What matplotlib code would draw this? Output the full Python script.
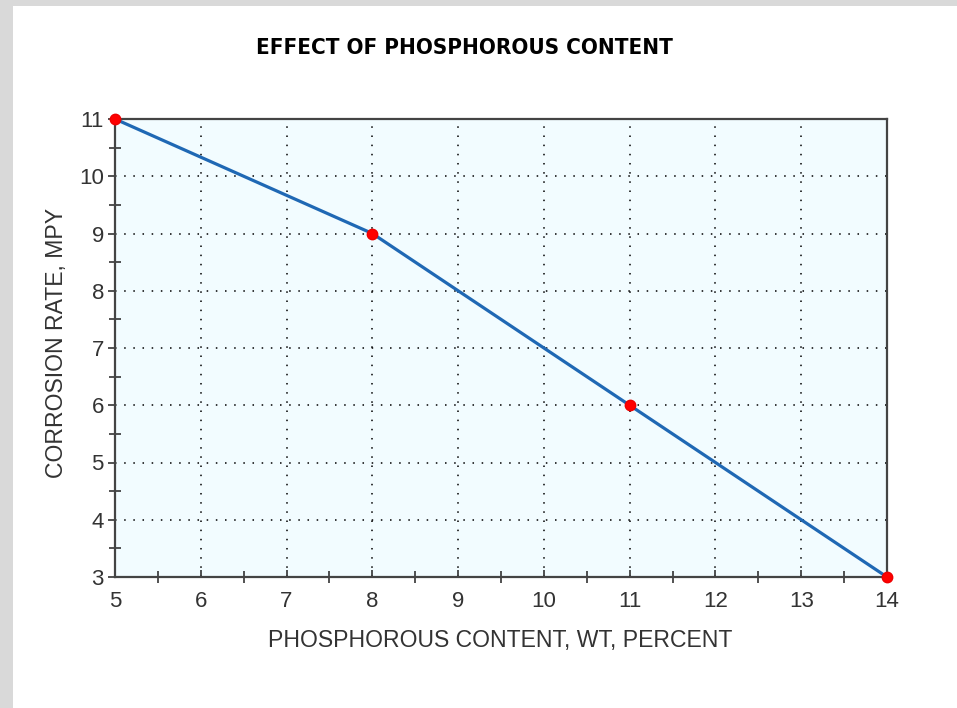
import matplotlib
matplotlib.use("Agg")
import matplotlib.pyplot as plt
from matplotlib.ticker import MultipleLocator

phosphorus = [5, 8, 11, 14]
corrosion = [11, 9, 6, 3]
x_ticks = [5, 6, 7, 8, 9, 10, 11, 12, 13, 14]
y_ticks = [3, 4, 5, 6, 7, 8, 9, 10, 11]

W, H = 957, 708
fig = plt.figure(figsize=(W / 100, H / 100), dpi=100)
fig.patch.set_facecolor("#d9d9d9")
bg = fig.add_axes([13 / W, 0, 1 - 13 / W, 1 - 6 / H], zorder=0)
bg.set_axis_off()
bg.add_artist(plt.Rectangle((0, 0), 1, 1, transform=bg.transAxes, facecolor="white", edgecolor="none"))

ax = fig.add_axes([115 / W, 1 - 577 / H, (887 - 115) / W, (577 - 119) / H], zorder=2)
ax.set_facecolor("#f2fcff")
ax.plot(phosphorus, corrosion, color="#1f68b4", lw=2.3, zorder=3, clip_on=False)
ax.plot(phosphorus, corrosion, "o", color="#ff0000", ms=7.5, mec="#ee0000", zorder=4, clip_on=False)

ax.set_xlim(5, 14)
ax.set_ylim(3, 11)
ax.set_xticks(x_ticks)
ax.set_yticks(y_ticks)
ax.xaxis.set_minor_locator(MultipleLocator(0.5))
ax.yaxis.set_minor_locator(MultipleLocator(0.5))
ax.grid(True, which="major", color="black", linestyle=(0, (1, 5)), linewidth=1.1)
ax.tick_params(axis="x", which="major", direction="in", length=5, width=1.2, color="#333333",
               labelsize=16, labelcolor="#333333", pad=10)
ax.tick_params(axis="y", which="major", direction="out", length=5, width=1.2, color="#333333",
               labelsize=16, labelcolor="#333333", pad=3)
ax.tick_params(which="minor", direction="inout", length=8, width=1.2, color="#333333")
for s in ax.spines.values():
    s.set_color("#444444")
    s.set_linewidth(1.6)

ax.set_xlabel("PHOSPHOROUS CONTENT, WT, PERCENT", fontsize=16.6, color="#333333",
              family="Liberation Sans", va="center", ha="center")
ax.xaxis.set_label_coords((500 - 115) / 772, -(641 - 577) / 458)
ax.set_ylabel("CORROSION RATE, MPY", fontsize=16.6, color="#333333",
              family="Liberation Sans", va="center", ha="center")
ax.yaxis.set_label_coords((57 - 115) / 772, (577 - 343) / 458)
for lab in ax.get_xticklabels() + ax.get_yticklabels():
    lab.set_family("Liberation Sans")

fig.text(464 / W, 1 - 48 / H, "EFFECT OF PHOSPHOROUS CONTENT", ha="center", va="center",
         fontsize=16, fontweight="bold", fontstretch="condensed", family="DejaVu Sans",
         color="black")

fig.savefig("out.png", dpi=100, facecolor=fig.get_facecolor())
